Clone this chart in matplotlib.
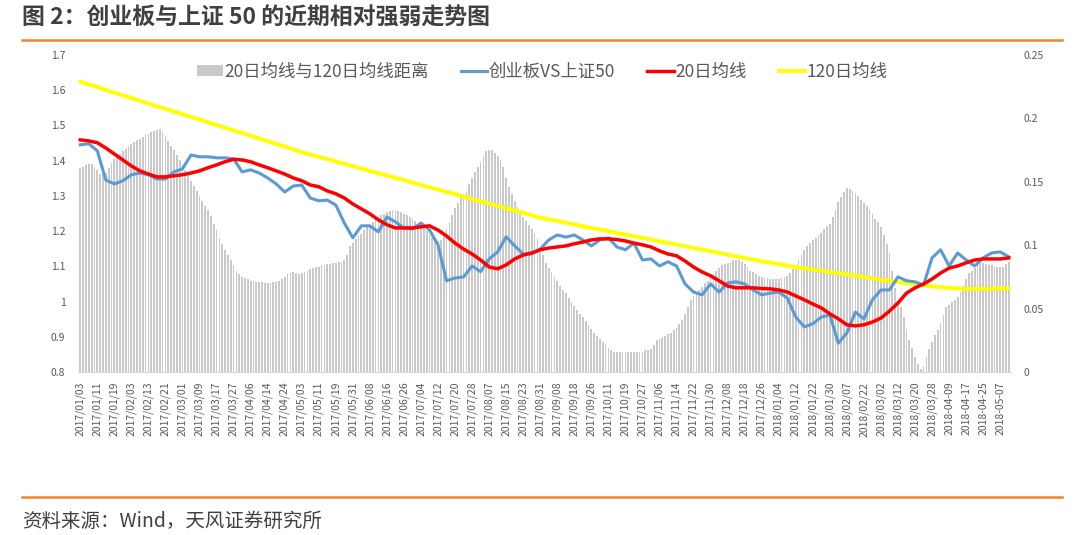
import matplotlib
matplotlib.use("Agg")
import matplotlib.pyplot as plt
import numpy as np
from matplotlib.patches import Patch
from matplotlib.lines import Line2D

plt.rcParams['font.family'] = ['Noto Sans CJK SC', 'DejaVu Sans']

# Teks judul dan sumber
judul = "图 2：创业板与上证 50 的近期相对强弱走势图"
sumber = "资料来源：Wind，天风证券研究所"
nama_seri = ["20日均线与120日均线距离", "创业板VS上证50", "20日均线", "120日均线"]

# Label tanggal pada sumbu x (setiap 6 hari bursa)
label_tanggal = [
    "2017/01/03", "2017/01/11", "2017/01/19", "2017/02/03", "2017/02/13", "2017/02/21",
    "2017/03/01", "2017/03/09", "2017/03/17", "2017/03/27", "2017/04/06", "2017/04/14",
    "2017/04/24", "2017/05/03", "2017/05/11", "2017/05/19", "2017/05/31", "2017/06/08",
    "2017/06/16", "2017/06/26", "2017/07/04", "2017/07/12", "2017/07/20", "2017/07/28",
    "2017/08/07", "2017/08/15", "2017/08/23", "2017/08/31", "2017/09/08", "2017/09/18",
    "2017/09/26", "2017/10/11", "2017/10/19", "2017/10/27", "2017/11/06", "2017/11/14",
    "2017/11/22", "2017/11/30", "2017/12/08", "2017/12/18", "2017/12/26", "2018/01/04",
    "2018/01/12", "2018/01/22", "2018/01/30", "2018/02/07", "2018/02/22", "2018/03/02",
    "2018/03/12", "2018/03/20", "2018/03/28", "2018-04-09", "2018-04-17", "2018-04-25",
    "2018-05-07",
]

# Jarak 20日均线 dan 120日均线 (sumbu kanan), satu nilai per hari bursa
jarak_ma = [
    0.161, 0.162, 0.163, 0.164, 0.164, 0.162,
    0.159, 0.156, 0.156, 0.157, 0.161, 0.165,
    0.168, 0.170, 0.172, 0.174, 0.176, 0.178,
    0.180, 0.181, 0.183, 0.184, 0.185, 0.187,
    0.188, 0.189, 0.190, 0.191, 0.192, 0.189,
    0.186, 0.182, 0.178, 0.175, 0.171, 0.167,
    0.163, 0.159, 0.155, 0.151, 0.147, 0.143,
    0.139, 0.135, 0.131, 0.128, 0.123, 0.117,
    0.112, 0.106, 0.101, 0.096, 0.092, 0.088,
    0.084, 0.080, 0.077, 0.075, 0.074, 0.073,
    0.072, 0.072, 0.071, 0.071, 0.071, 0.070,
    0.070, 0.070, 0.071, 0.071, 0.072, 0.073,
    0.075, 0.077, 0.078, 0.079, 0.078, 0.077,
    0.078, 0.079, 0.080, 0.081, 0.082, 0.083,
    0.083, 0.084, 0.084, 0.085, 0.085, 0.086,
    0.086, 0.087, 0.087, 0.088, 0.092, 0.099,
    0.102, 0.105, 0.107, 0.109, 0.112, 0.114,
    0.116, 0.118, 0.120, 0.122, 0.124, 0.125,
    0.126, 0.127, 0.128, 0.128, 0.127, 0.126,
    0.125, 0.124, 0.122, 0.121, 0.119, 0.117,
    0.115, 0.113, 0.111, 0.108, 0.106, 0.104,
    0.103, 0.104, 0.108, 0.113, 0.118, 0.124,
    0.129, 0.133, 0.137, 0.140, 0.143, 0.148,
    0.153, 0.158, 0.162, 0.166, 0.170, 0.174,
    0.175, 0.175, 0.173, 0.170, 0.167, 0.162,
    0.153, 0.146, 0.140, 0.135, 0.130, 0.125,
    0.122, 0.119, 0.116, 0.113, 0.110, 0.105,
    0.098, 0.092, 0.086, 0.082, 0.079, 0.075,
    0.072, 0.068, 0.065, 0.062, 0.058, 0.055,
    0.052, 0.049, 0.046, 0.043, 0.040, 0.037,
    0.034, 0.031, 0.028, 0.026, 0.024, 0.022,
    0.019, 0.017, 0.016, 0.016, 0.016, 0.016,
    0.016, 0.016, 0.016, 0.016, 0.016, 0.016,
    0.016, 0.017, 0.017, 0.018, 0.021, 0.025,
    0.026, 0.027, 0.028, 0.030, 0.031, 0.033,
    0.035, 0.038, 0.041, 0.046, 0.051, 0.057,
    0.060, 0.062, 0.065, 0.067, 0.070, 0.072,
    0.075, 0.077, 0.080, 0.082, 0.084, 0.085,
    0.086, 0.087, 0.088, 0.088, 0.088, 0.087,
    0.085, 0.083, 0.080, 0.079, 0.077, 0.076,
    0.075, 0.074, 0.074, 0.073, 0.073, 0.073,
    0.073, 0.074, 0.075, 0.076, 0.078, 0.081,
    0.084, 0.088, 0.092, 0.096, 0.099, 0.102,
    0.104, 0.106, 0.108, 0.110, 0.113, 0.115,
    0.117, 0.122, 0.128, 0.134, 0.138, 0.142,
    0.145, 0.144, 0.143, 0.141, 0.139, 0.136,
    0.133, 0.131, 0.128, 0.125, 0.121, 0.118,
    0.114, 0.108, 0.101, 0.094, 0.080, 0.066,
    0.056, 0.051, 0.043, 0.034, 0.025, 0.019,
    0.012, 0.006, 0.002, 0.005, 0.012, 0.018,
    0.024, 0.029, 0.033, 0.039, 0.045, 0.051,
    0.053, 0.055, 0.057, 0.059, 0.063, 0.068,
    0.073, 0.078, 0.080, 0.082, 0.084, 0.086,
    0.086, 0.085, 0.084, 0.084, 0.083, 0.083,
    0.083, 0.083, 0.085, 0.087,
]

# 创业板VS上证50, satu nilai per 3 hari bursa
rasio = [
    1.445, 1.448, 1.428, 1.345, 1.334, 1.343, 1.360, 1.365, 1.360, 1.348,
    1.348, 1.368, 1.377, 1.416, 1.411, 1.411, 1.408, 1.408, 1.405, 1.368,
    1.374, 1.365, 1.351, 1.334, 1.311, 1.328, 1.331, 1.294, 1.286, 1.288,
    1.274, 1.223, 1.181, 1.215, 1.215, 1.198, 1.240, 1.226, 1.209, 1.206,
    1.223, 1.203, 1.161, 1.059, 1.067, 1.070, 1.101, 1.085, 1.121, 1.141,
    1.184, 1.158, 1.135, 1.135, 1.149, 1.175, 1.189, 1.183, 1.189, 1.175,
    1.158, 1.175, 1.181, 1.155, 1.147, 1.166, 1.118, 1.121, 1.101, 1.113,
    1.101, 1.050, 1.027, 1.019, 1.050, 1.027, 1.053, 1.056, 1.050, 1.033,
    1.019, 1.024, 1.027, 1.010, 0.956, 0.928, 0.937, 0.956, 0.962, 0.882,
    0.911, 0.970, 0.951, 1.005, 1.033, 1.033, 1.070, 1.059, 1.056, 1.047,
    1.124, 1.147, 1.101, 1.138, 1.118, 1.101, 1.124, 1.138, 1.141, 1.127,
]

# 20日均线, satu nilai per 3 hari bursa
ma20 = [
    1.459, 1.456, 1.451, 1.436, 1.419, 1.402, 1.385, 1.371, 1.362, 1.354,
    1.354, 1.357, 1.360, 1.365, 1.371, 1.380, 1.388, 1.397, 1.404, 1.402,
    1.397, 1.388, 1.380, 1.371, 1.362, 1.351, 1.343, 1.331, 1.326, 1.314,
    1.306, 1.294, 1.277, 1.263, 1.249, 1.232, 1.218, 1.209, 1.209, 1.209,
    1.212, 1.215, 1.203, 1.186, 1.166, 1.149, 1.135, 1.118, 1.098, 1.093,
    1.104, 1.121, 1.132, 1.138, 1.147, 1.152, 1.155, 1.158, 1.164, 1.169,
    1.175, 1.178, 1.178, 1.176, 1.172, 1.166, 1.161, 1.155, 1.144, 1.135,
    1.130, 1.115, 1.098, 1.084, 1.073, 1.059, 1.044, 1.039, 1.039, 1.039,
    1.037, 1.036, 1.033, 1.027, 1.016, 1.005, 0.993, 0.982, 0.965, 0.951,
    0.934, 0.931, 0.934, 0.942, 0.953, 0.973, 0.996, 1.024, 1.039, 1.050,
    1.064, 1.081, 1.095, 1.101, 1.110, 1.118, 1.121, 1.121, 1.121, 1.124,
]

# 120日均线, satu nilai per label tanggal ditambah hari terakhir
ma120 = [
    1.624, 1.609, 1.593, 1.578, 1.562, 1.547, 1.532, 1.517, 1.501, 1.486,
    1.471, 1.455, 1.440, 1.424, 1.411, 1.398, 1.384, 1.371, 1.358, 1.345,
    1.331, 1.318, 1.305, 1.291, 1.278, 1.265, 1.252, 1.238, 1.229, 1.219,
    1.209, 1.200, 1.190, 1.181, 1.171, 1.162, 1.152, 1.143, 1.133, 1.124,
    1.114, 1.106, 1.098, 1.091, 1.084, 1.077, 1.070, 1.062, 1.055, 1.049,
    1.043, 1.039, 1.036, 1.036, 1.037, 1.038,
]

# Tick sumbu y kiri dan kanan
tick_kiri = [0.8, 0.9, 1.0, 1.1, 1.2, 1.3, 1.4, 1.5, 1.6, 1.7]
tick_kanan = [0, 0.05, 0.1, 0.15, 0.2, 0.25]


# Fungsi untuk membuat grafik
def pembuatan_grafik():
    warna_teks = "#595959"
    oranye = "#EE8434"

    fig = plt.figure(figsize=(10.8, 5.35), dpi=100)
    ax = fig.add_axes([78 / 1080, 1 - 372 / 535, (1011 - 78) / 1080, (372 - 55) / 535])
    ax2 = ax.twinx()

    # Posisi kategori (hari bursa)
    n = len(jarak_ma)
    x_hari = np.arange(n)
    x_3hari = np.arange(0, n, 3)
    x_label = np.arange(0, n, 6)
    x_ma120 = np.append(x_label, n - 1)

    # Batang jarak pada sumbu kanan
    ax2.bar(x_hari, jarak_ma, width=0.62, color="#C9C9C9", linewidth=0)

    # Garis pada sumbu kiri
    ax.plot(x_ma120, ma120, color="#FFFF00", lw=2.8, solid_capstyle="round")
    ax.plot(x_3hari, rasio, color="#5B9BD5", lw=2.2, solid_joinstyle="round")
    ax.plot(x_3hari, ma20, color="#FF0000", lw=2.5, solid_joinstyle="round")

    # Sumbu kiri di atas sumbu kanan
    ax.set_zorder(ax2.get_zorder() + 1)
    ax.patch.set_visible(False)

    ax.set_xlim(-0.8, n - 0.2)
    ax.set_ylim(0.8, 1.7)
    ax2.set_ylim(0, 0.25)
    ax.set_yticks(tick_kiri)
    ax.set_yticklabels([f"{v:g}" for v in tick_kiri])
    ax2.set_yticks(tick_kanan)
    ax2.set_yticklabels([f"{v:g}" for v in tick_kanan])
    ax.set_xticks(x_label)
    ax.set_xticklabels(label_tanggal, rotation=90)

    ax.tick_params(axis="y", length=0, pad=9, labelsize=7.5, labelcolor=warna_teks)
    ax2.tick_params(axis="y", length=0, pad=9, labelsize=7.5, labelcolor=warna_teks)
    ax.tick_params(axis="x", length=0, pad=7, labelsize=7.5, labelcolor=warna_teks)

    for a in (ax, ax2):
        for s in a.spines.values():
            s.set_visible(False)
    ax.spines["bottom"].set_visible(True)
    ax.spines["bottom"].set_color("#D9D9D9")

    # Legenda
    handle = [
        Patch(facecolor="#C9C9C9", edgecolor="none"),
        Line2D([], [], color="#5B9BD5", lw=2.2),
        Line2D([], [], color="#FF0000", lw=2.5),
        Line2D([], [], color="#FFFF00", lw=2.8),
    ]
    fig.legend(handle, nama_seri, loc="center", bbox_to_anchor=(0.502, 1 - 72 / 535),
               ncol=4, frameon=False, fontsize=12.5, handlelength=1.5, handleheight=0.6,
               handletextpad=0.1, columnspacing=1.85, labelcolor=warna_teks)

    # Judul, garis oranye dan sumber
    fig.text(22 / 1080, 1 - 18 / 535, judul, ha="left", va="center",
             fontsize=16.5, fontweight="bold", color="#404040")
    fig.add_artist(Line2D([22 / 1080, 1062 / 1080], [1 - 40 / 535] * 2, color=oranye, lw=1.8))
    fig.add_artist(Line2D([22 / 1080, 1062 / 1080], [1 - 497 / 535] * 2, color=oranye, lw=1.8))
    fig.text(22 / 1080, 1 - 521 / 535, sumber, ha="left", va="center",
             fontsize=14, color="#404040")

    fig.savefig("out.png", dpi=100)


# Fungsi utama
def main():
    pembuatan_grafik()


if __name__ == "__main__":
    main()
